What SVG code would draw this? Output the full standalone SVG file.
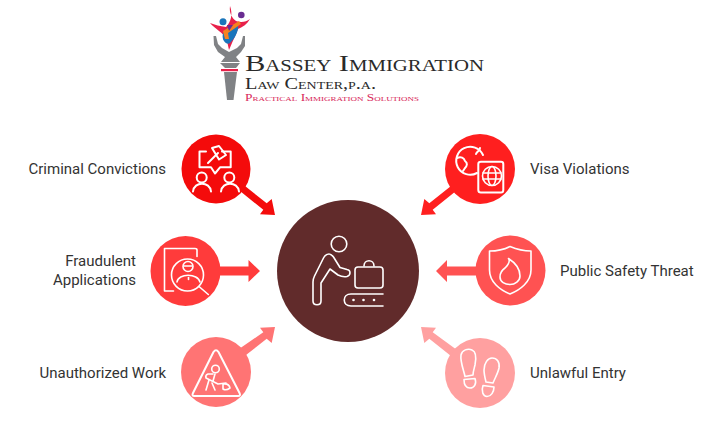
<svg xmlns="http://www.w3.org/2000/svg" width="726" height="433" viewBox="0 0 726 433">
<style>
.l{font-family:Roboto,"Liberation Sans",sans-serif;font-size:15px;fill:#333}
.i{fill:none;stroke:#fff;stroke-width:1.6;stroke-linecap:round;stroke-linejoin:round}
.t{fill:none;stroke:#fff;stroke-width:2;stroke-linecap:round;stroke-linejoin:round}
.s{font-family:"Liberation Serif",serif;font-variant:small-caps;fill:#2a2a2a}
</style>
<rect width="726" height="433" fill="#fff"/>
<g id="logo">
<path d="M230 6 C229 13 232 18 236 21 C241 23 246 22 250 19 C247 24 243 27 238 29 C236 35 233 40 232 43 L229 50 L227 41 C225 36 222 33 219 31 C216 28 212 26 210 23 C215 25 220 26 226 27 C231 22 233 14 230 6Z" fill="#e8204a"/>
<circle cx="223" cy="21.700" r="3.500" fill="#1a75bb"/>
<circle cx="241.300" cy="15" r="3.300" fill="#6a2c91"/>
<path d="M223 34 C225 28 232 25 238 24 C239 31 235 38 230 43 C227 46 221 40 223 34Z" fill="#1a75bb"/>
<path d="M223 31 L239 21 L241 24 L228 33 L229 39 L225 39 Z" fill="#f58220"/>
<path d="M227 25 L233 25 L229 31Z" fill="#6a2c91"/>
<path d="M213.500 36 L216 36 L218 44 L222 48 L229 52 L237 48 L241 44 L243 36 L245 36 L245 46 L241 52 L236 57 L240 62 L221 62 L225 57 L218 52 L214 45Z" fill="#808285"/>
<path d="M220 63 H240 L236 68 H225Z" fill="#808285"/>
<rect x="221" y="69" width="17" height="2.200" fill="#e8204a"/>
<path d="M224 72 H237 L233.500 100 H227Z" fill="#808285"/>
<text class="s" x="245" y="71" font-size="23.500" textLength="239" lengthAdjust="spacingAndGlyphs">Bassey Immigration</text>
<text class="s" x="245" y="88.500" font-size="16" textLength="131" lengthAdjust="spacingAndGlyphs">Law Center,p.a.</text>
<text class="s" x="245" y="100.500" font-size="10.500" textLength="174" lengthAdjust="spacingAndGlyphs" style="fill:#d8285a">Practical Immigration Solutions</text>
</g>
<g id="connectors">
<polygon points="245,186 266.700,203.300 271.700,199 275,215 260,214.300 263.300,209.800 240,191" fill="#f40b0b"/>
<polygon points="215,266.500 248.500,266.500 248.500,260 260,271 248.500,282 248.500,275.500 215,275.500" fill="#ff3b3b"/>
<polygon points="246,355 266.700,338.700 271.700,343 275,327 260,327.700 263.300,332.200 239,349" fill="#ff7474"/>
<polygon points="451,186 429.300,203.300 424.300,199 421,215 436,214.300 432.700,209.800 456,191" fill="#ff1f1f"/>
<polygon points="480,266.500 447,266.500 447,260 436,271 447,282 447,275.500 480,275.500" fill="#ff5252"/>
<polygon points="451,356 429.300,338.700 424.300,343 421,327 436,327.700 432.700,332.200 457,350" fill="#ffa0a0"/>
</g>
<g id="center">
<circle cx="348" cy="271" r="71" fill="#612b2b"/>
<g class="i">
<circle cx="339" cy="244" r="7.800"/>
<path d="M329 254 C326 254 324.500 256 323.500 258 L314.500 276 C313.500 278 313 280 313 282 V301 C313 306 321 306 321 301 V283 L330 269 L338 275 C340 276 344 277 347 276.500 C351 275 351 270 347 269.500 L340 267.500 L333.500 257 C332 255 331 254 329 254Z"/>
<path d="M358 267 H380 Q383 267 383 270 V285 Q383 288 380 288 H358 Q355 288 355 285 V270 Q355 267 358 267Z"/>
<path d="M364 266 C364 259 374 259 374 266"/>
<path d="M383 294 H351 C342 294 342 306 351 306 H383"/>
</g>
<circle cx="353.500" cy="300" r="1.300" fill="#fff"/><circle cx="363.500" cy="300" r="1.300" fill="#fff"/><circle cx="374" cy="300" r="1.300" fill="#fff"/>
</g>
<g id="criminal">
<circle cx="216" cy="169" r="34.500" fill="#f40b0b"/>
<g class="t">
<path d="M206 151.500 H199.500 V167.300 H211 L215 173.500 L220 167.300 H230.700 V151.500 H222"/>
<path d="M208 163 L218 153"/>
<path d="M212 148 L219 146 L226 155 L219 159.500Z"/>
<circle cx="201.700" cy="177.500" r="5"/><circle cx="229.300" cy="177.500" r="5"/>
<path d="M193 191.500 C194 181 210 181 211 191.500"/><path d="M221 191.500 C222 181 238 181 239 191.500"/>
</g>
</g>
<g id="fraud">
<circle cx="185.500" cy="271" r="35" fill="#ff3b3b"/>
<g class="i">
<path d="M197 256.500 V250 Q197 248.500 195 248.500 H164.500 V291 H173.500"/>
<circle cx="187.500" cy="275" r="16"/>
<path d="M199 286.500 L208.300 294.500"/>
<circle cx="188" cy="266.500" r="5"/><path d="M184 266 H192"/>
<path d="M177 282 C178 273 198 273 200 282"/><path d="M188.500 277.500 V279.500"/>
</g>
</g>
<g id="unauthorized">
<circle cx="216" cy="372" r="35" fill="#ff7474"/>
<g class="t">
<path d="M213.500 352 Q216 348.500 218.500 352 L239.500 393 Q241 396 238 396 H194.500 Q191.500 396 193 393Z"/>
</g>
<g class="i">
<circle cx="215.500" cy="369" r="3.800"/>
<path d="M213 374 H208 Q205 375 206 378 L218 384 L226 383"/><path d="M215 374 L213 381"/>
<path d="M209 380 L206 390"/><path d="M212 383 L215 390"/>
<path d="M223 384 Q229 383 230 388 Q226 391 223 389Z"/>
</g>
</g>
<g id="visa">
<circle cx="480" cy="169" r="35" fill="#ff1f1f"/>
<g class="t">
<path d="M477 173 A14 14 0 1 1 483 155"/>
<path d="M457 158 C461 156 464 158 465 161 C468 163 467 166 465 168 L463 171"/>
<path d="M476 154 C477 151 480 151 480 148"/>
<path d="M481 161.700 H501 Q503.300 161.700 503.300 164 V190 Q503.300 192.500 501 192.500 H481 Q478.300 192.500 478.300 190 V164 Q478.300 161.700 481 161.700Z"/>
</g>
<g class="i">
<circle cx="492" cy="176" r="9.500"/><ellipse cx="492" cy="176" rx="4" ry="9.500"/><path d="M483 173 H501 M483 179 H501"/>
</g>
</g>
<g id="public">
<circle cx="510.500" cy="270.500" r="35" fill="#ff5252"/>
<g class="i">
<path d="M489.500 251 C497 251 505 249 510 246.500 C516 249 524 251 531 251 V270 C531 282 520 290 510 294 C500 290 489.500 282 489.500 270Z"/>
<path d="M508.500 258.500 C511 262 507 266 505 268 C502 270 500 273 500 277 C500 282 505 284.500 510 284.500 C515 284.500 520 281 520 276 C520 268 514 262 508.500 258.500Z"/>
</g>
</g>
<g id="unlawful">
<circle cx="480" cy="373" r="35" fill="#ffa0a0"/>
<g class="i">
<path d="M461 355 C462 350 468 348 472 350 C477 352 476 360 475 365 C474 369 473 372 473 375 L465 376.500 C464 371 460 362 461 355Z"/>
<path d="M464 379.500 L475 378.500 C477 384 474 388 470 388 C466 388 464 385 464 379.500Z"/>
<path d="M484 370 C484 363 488 358 492 358 C497 358 500 362 499 368 C498 373 495 378 493 383 L486 382 C485 378 484 374 484 370Z"/>
<path d="M483 385.500 L494 387 C494 392 491 396.500 487 396.500 C483 396.500 481 391 483 385.500Z"/>
</g>
</g>
<g id="labels">
<text class="l" x="28.500" y="174">Criminal Convictions</text>
<text class="l" x="136" y="266" text-anchor="end">Fraudulent</text>
<text class="l" x="136" y="285" text-anchor="end">Applications</text>
<text class="l" x="39.500" y="378">Unauthorized Work</text>
<text class="l" x="530" y="174">Visa Violations</text>
<text class="l" x="560" y="276">Public Safety Threat</text>
<text class="l" x="530" y="378">Unlawful Entry</text>
</g>
</svg>
